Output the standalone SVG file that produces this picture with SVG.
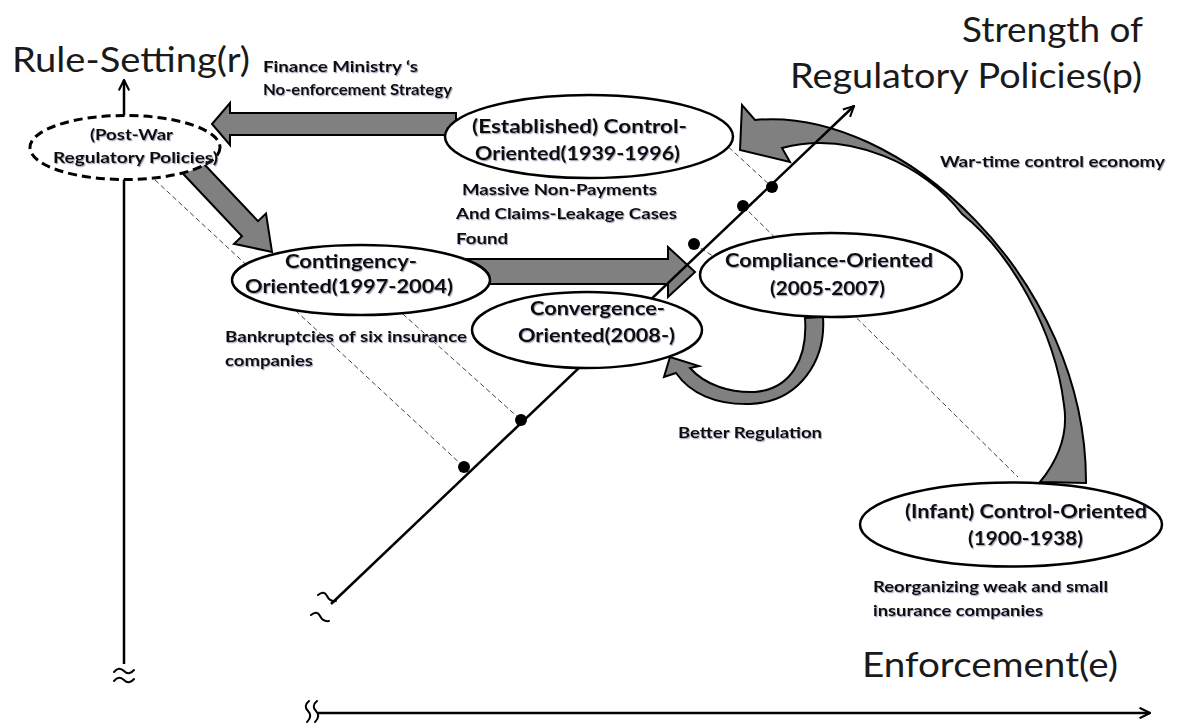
<svg xmlns="http://www.w3.org/2000/svg" width="1184" height="724" viewBox="0 0 1184 724">
  <defs>
    <style>
      .axis { stroke: #000; stroke-width: 2.5; fill: none; }
      .guide { stroke: #444; stroke-width: 1; stroke-dasharray: 5 3; fill: none; }
      .flow { fill: #808080; stroke: #000; stroke-width: 2; stroke-linejoin: miter; }
      .node { fill: #fff; stroke: #000; stroke-width: 2.5; }
      .node-dash { fill: #fff; stroke: #000; stroke-width: 3; stroke-dasharray: 9 5; }
      .title { font-family: Lato, "Liberation Sans", sans-serif; font-size: 34px; fill: #1a1a1a; }
      .lbl { font-family: Lato, "Liberation Sans", sans-serif; font-weight: bold; font-size: 15.5px; fill: #111; filter: url(#shadow); }
      .ntx { font-family: Lato, "Liberation Sans", sans-serif; font-weight: bold; font-size: 19.5px; fill: #111; filter: url(#shadow); }
      .ntx-s { font-family: Lato, "Liberation Sans", sans-serif; font-weight: bold; font-size: 15px; fill: #111; filter: url(#shadow); }
      .dot { fill: #000; }
      .squig { stroke: #000; stroke-width: 2; fill: none; stroke-linecap: round; }
    </style>
    <filter id="shadow" x="-5%" y="-20%" width="110%" height="150%">
      <feDropShadow dx="1" dy="1.2" stdDeviation="0.7" flood-color="#3a3a6a" flood-opacity="0.45"/>
    </filter>
    <marker id="open-arrow" viewBox="0 0 12 12" refX="11" refY="6" markerWidth="5" markerHeight="5" orient="auto" markerUnits="strokeWidth">
      <path d="M1,1 L11,6 L1,11" fill="none" stroke="#000" stroke-width="2"/>
    </marker>
  </defs>

  <!-- projection guides -->
  <g id="guides">
    <line class="guide" x1="155" y1="180" x2="464" y2="467"/>
    <line class="guide" x1="385" y1="298" x2="521" y2="420"/>
    <line class="guide" x1="723" y1="142" x2="772" y2="187"/>
    <line class="guide" x1="743" y1="206" x2="1018" y2="477"/>
    <line class="guide" x1="694" y1="244" x2="716" y2="258"/>
  </g>

  <!-- connectors: axes and transition arrows -->
  <g id="connectors">
    <!-- Finance Ministry's no-enforcement: Established -> Post-War -->
    <polygon class="flow" points="456,113 230,113 230,103 212,124 230,145 230,135 456,135"/>
    <!-- Post-War -> Contingency -->
    <polygon class="flow" points="196,155.5 258,221.2 266,213.6 272,252 234,243.8 242,236.2 180,170.5"/>
    <!-- Contingency -> Compliance -->
    <polygon class="flow" points="455,259 668,259 668,247 695,272 668,297 668,284 455,284"/>
    <!-- War-time control economy: Infant -> Established -->
    <path class="flow" d="M755,120 C900,106 1087,280 1086,483 L1040,482 C1062,455 1068,430 1064,405 C1055,330 1010,252 962,214 C925,165 850,130 782,148 L790,162 L740,150 L742,105 Z"/>
    <!-- Better Regulation: Compliance -> Convergence -->
    <path class="flow" d="M823,317 C826,360 800,402 750,404 C715,405 690,393 676,373 L664,377 L670,357 L699,366 L690,368 C705,385 730,393 755,392 C790,389 808,360 805,318 Z"/>

    <!-- axes -->
    <line class="axis" x1="124" y1="664" x2="124" y2="80" marker-end="url(#open-arrow)"/>
    <line class="axis" x1="318" y1="713" x2="1150" y2="713" marker-end="url(#open-arrow)"/>
    <line class="axis" x1="331" y1="604" x2="854" y2="106" marker-end="url(#open-arrow)"/>

    <!-- axis breaks -->
    <path class="squig" d="M114,672 q5,-6 10,-1 q5,5 10,-1"/>
    <path class="squig" d="M114,681 q5,-6 10,-1 q5,5 10,-1"/>
    <path class="squig" d="M309,701 q-6,5 -1,10 q5,5 -1,11"/>
    <path class="squig" d="M317,701 q-6,5 -1,10 q5,5 -1,11"/>
    <path class="squig" d="M318,595 q6,-5 9,1 q3,6 9,5"/>
    <path class="squig" d="M311,615 q6,-5 9,1 q3,6 9,5"/>
  </g>

  <!-- stages -->
  <g id="post-war">
    <ellipse class="node-dash" cx="125" cy="147.5" rx="95" ry="32"/>
    <text class="ntx-s" x="90" y="140" textLength="83" lengthAdjust="spacingAndGlyphs">(Post-War</text>
    <text class="ntx-s" x="53" y="163" textLength="165" lengthAdjust="spacingAndGlyphs">Regulatory Policies)</text>
  </g>
  <g id="established">
    <ellipse class="node" cx="589" cy="136.5" rx="144" ry="41.5"/>
    <text class="ntx" x="472" y="133" textLength="215" lengthAdjust="spacingAndGlyphs">(Established) Control-</text>
    <text class="ntx" x="475" y="160" textLength="205" lengthAdjust="spacingAndGlyphs">Oriented(1939-1996)</text>
  </g>
  <g id="contingency">
    <ellipse class="node" cx="361" cy="280" rx="129" ry="35"/>
    <text class="ntx" x="285" y="268" textLength="132" lengthAdjust="spacingAndGlyphs">Contingency-</text>
    <text class="ntx" x="245" y="293" textLength="208" lengthAdjust="spacingAndGlyphs">Oriented(1997-2004)</text>
  </g>
  <g id="compliance">
    <ellipse class="node" cx="831" cy="275" rx="131" ry="42"/>
    <text class="ntx" x="725" y="267" textLength="208" lengthAdjust="spacingAndGlyphs">Compliance-Oriented</text>
    <text class="ntx" x="770" y="295" textLength="115" lengthAdjust="spacingAndGlyphs">(2005-2007)</text>
  </g>
  <g id="convergence">
    <ellipse class="node" cx="587" cy="330" rx="115" ry="38"/>
    <text class="ntx" x="530" y="315" textLength="135" lengthAdjust="spacingAndGlyphs">Convergence-</text>
    <text class="ntx" x="518" y="342" textLength="157" lengthAdjust="spacingAndGlyphs">Oriented(2008-)</text>
  </g>
  <g id="infant">
    <ellipse class="node" cx="1011" cy="524.5" rx="151" ry="42"/>
    <text class="ntx" x="905" y="518" textLength="242" lengthAdjust="spacingAndGlyphs">(Infant) Control-Oriented</text>
    <text class="ntx" x="968" y="545" textLength="115" lengthAdjust="spacingAndGlyphs">(1900-1938)</text>
  </g>

  <!-- points on the policy-strength axis -->
  <g id="points">
    <circle class="dot" cx="464" cy="467" r="6"/>
    <circle class="dot" cx="521" cy="420" r="6"/>
    <circle class="dot" cx="694" cy="244" r="6"/>
    <circle class="dot" cx="743" cy="206" r="6"/>
    <circle class="dot" cx="772" cy="187" r="6"/>
  </g>

  <!-- axis titles -->
  <g id="titles">
    <text class="title" x="12" y="72" textLength="238" lengthAdjust="spacingAndGlyphs">Rule-Setting(r)</text>
    <text class="title" x="962" y="42" textLength="181" lengthAdjust="spacingAndGlyphs">Strength of</text>
    <text class="title" x="790" y="88" textLength="352" lengthAdjust="spacingAndGlyphs">Regulatory Policies(p)</text>
    <text class="title" x="862" y="677" textLength="256" lengthAdjust="spacingAndGlyphs">Enforcement(e)</text>
  </g>

  <!-- event labels -->
  <g id="labels">
    <text class="lbl" x="263" y="72" textLength="155" lengthAdjust="spacingAndGlyphs">Finance Ministry ‘s</text>
    <text class="lbl" x="263" y="95" textLength="189" lengthAdjust="spacingAndGlyphs">No-enforcement Strategy</text>
    <text class="lbl" x="462" y="195" textLength="195" lengthAdjust="spacingAndGlyphs">Massive Non-Payments</text>
    <text class="lbl" x="456" y="219" textLength="221" lengthAdjust="spacingAndGlyphs">And Claims-Leakage Cases</text>
    <text class="lbl" x="456" y="244" textLength="52" lengthAdjust="spacingAndGlyphs">Found</text>
    <text class="lbl" x="225" y="342" textLength="242" lengthAdjust="spacingAndGlyphs">Bankruptcies of six insurance</text>
    <text class="lbl" x="225" y="366" textLength="88" lengthAdjust="spacingAndGlyphs">companies</text>
    <text class="lbl" x="678" y="438" textLength="144" lengthAdjust="spacingAndGlyphs">Better Regulation</text>
    <text class="lbl" x="940" y="167" textLength="225" lengthAdjust="spacingAndGlyphs">War-time control economy</text>
    <text class="lbl" x="873" y="592" textLength="235" lengthAdjust="spacingAndGlyphs">Reorganizing weak and small</text>
    <text class="lbl" x="873" y="616" textLength="170" lengthAdjust="spacingAndGlyphs">insurance companies</text>
  </g>
</svg>
